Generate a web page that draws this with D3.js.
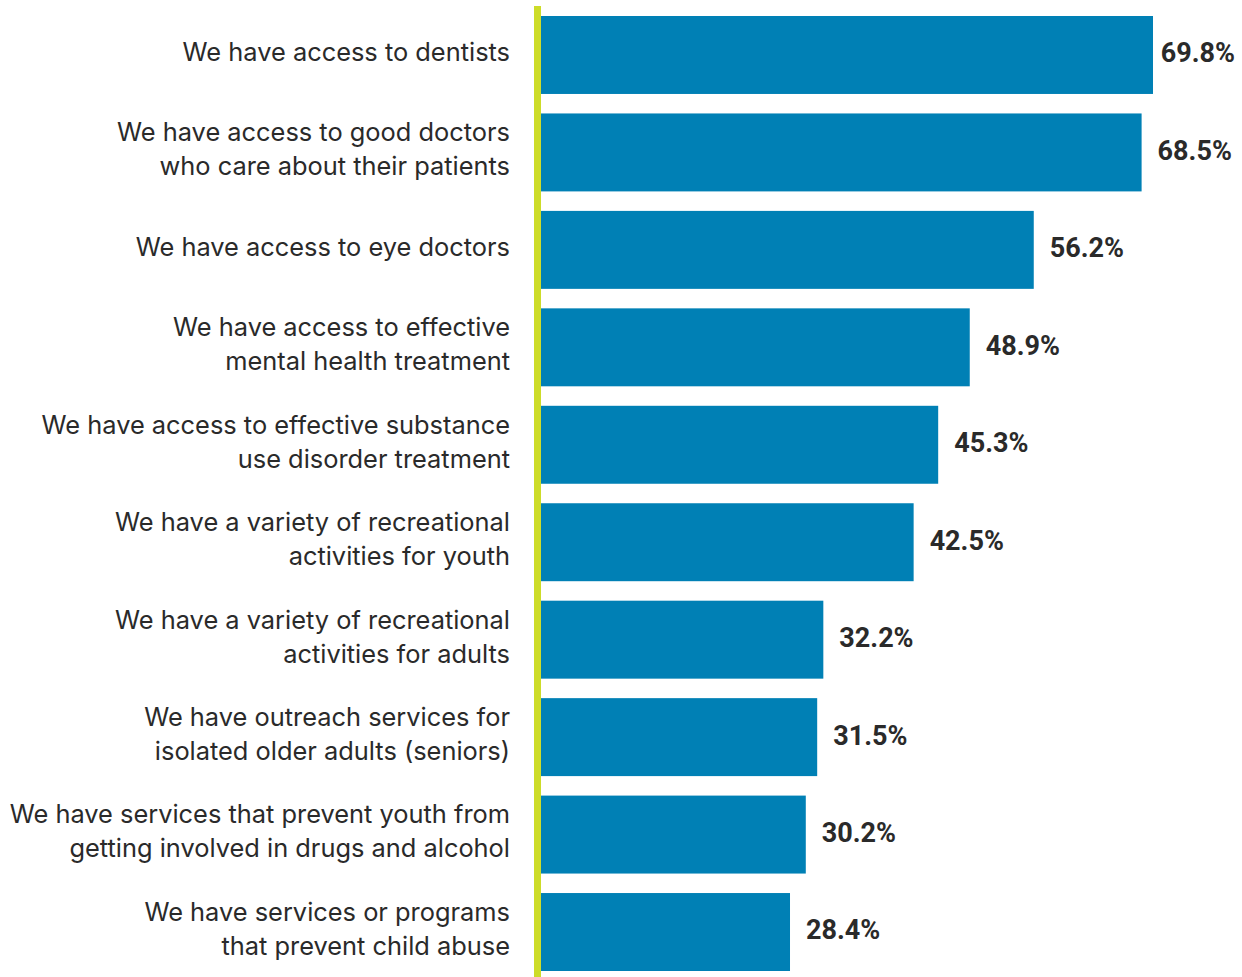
<!DOCTYPE html>
<html><head><meta charset="utf-8">
<script src="https://cdn.jsdelivr.net/npm/d3@7"></script>
<style>html,body{margin:0;padding:0;background:#fff;}svg{display:block;}</style>
</head><body>
<svg id="chart" width="1242" height="977"></svg>
<script>
const categories = [
  ["We have access to dentists"],
  ["We have access to good doctors", "who care about their patients"],
  ["We have access to eye doctors"],
  ["We have access to effective", "mental health treatment"],
  ["We have access to effective substance", "use disorder treatment"],
  ["We have a variety of recreational", "activities for youth"],
  ["We have a variety of recreational", "activities for adults"],
  ["We have outreach services for", "isolated older adults (seniors)"],
  ["We have services that prevent youth from", "getting involved in drugs and alcohol"],
  ["We have services or programs", "that prevent child abuse"]
];
const values = [69.8, 68.5, 56.2, 48.9, 45.3, 42.5, 32.2, 31.5, 30.2, 28.4];
const valueLabels = ["69.8%", "68.5%", "56.2%", "48.9%", "45.3%", "42.5%", "32.2%", "31.5%", "30.2%", "28.4%"];

const W = 1242, H = 977;
const svg = d3.select("#chart");
const keys = categories.map((c, i) => i);
const x = d3.scaleLinear().domain([0, 69.8]).range([541, 1153]);
const y = d3.scaleBand().domain(keys).range([16, 971]).paddingInner(0.2).paddingOuter(0);

svg.selectAll("rect.bar").data(keys).join("rect")
  .attr("class", "bar")
  .attr("x", x(0))
  .attr("y", i => y(i))
  .attr("width", i => x(values[i]) - x(0))
  .attr("height", y.bandwidth())
  .attr("fill", "#0080B5");

// axis line
svg.append("line")
  .attr("x1", x(0) - 3.5).attr("x2", x(0) - 3.5)
  .attr("y1", 6).attr("y2", H)
  .attr("stroke", "#CDDC29").attr("stroke-width", 7);

// category labels
const lh = 34;
const cg = svg.selectAll("text.cat").data(keys).join("text")
  .attr("class", "cat")
  .attr("text-anchor", "end")
  .attr("font-family", "Inter, 'Noto Sans', sans-serif")
  .attr("font-size", 25.4)
  .attr("fill", "#2a2a2a");
cg.each(function(i) {
  const lines = categories[i];
  const cy = y(i) + y.bandwidth() / 2 - 3;
  const t = d3.select(this);
  lines.forEach((ln, k) => {
    t.append("tspan")
      .attr("x", 510)
      .attr("y", cy + (k - (lines.length - 1) / 2) * lh)
      .attr("dy", "0.35em")
      .text(ln);
  });
});

// value labels
svg.selectAll("text.val").data(keys).join("text")
  .attr("class", "val")
  .attr("font-family", "Roboto, 'Noto Sans', sans-serif")
  .attr("font-weight", "bold")
  .attr("font-size", 27)
  .attr("fill", "#2a2a2a")
  .attr("y", i => y(i) + y.bandwidth() / 2 - 2)
  .attr("dy", "0.35em")
  .text(i => valueLabels[i])
  .attr("x", function(i) {
    const w = this.getComputedTextLength();
    return Math.min(x(values[i]) + 16, W - 7 - w);
  });
</script>
</body></html>
